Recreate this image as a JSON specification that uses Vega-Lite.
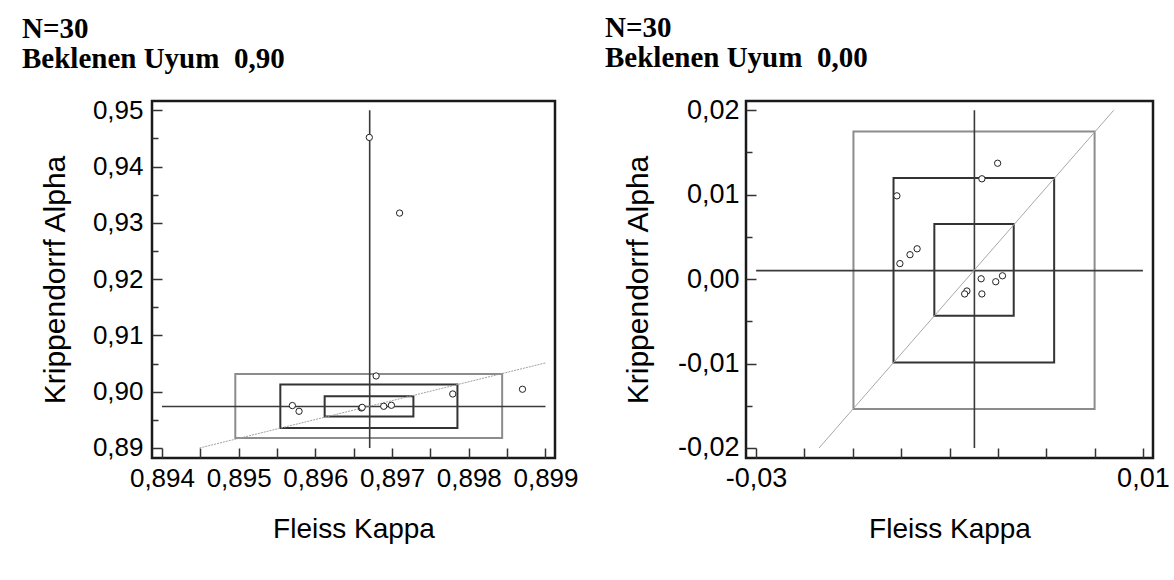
{
  "$schema": "https://vega.github.io/schema/vega-lite/v6.json",
  "background": "white",
  "padding": {"left": 20, "top": 13, "right": 0, "bottom": 5},
  "config": {
    "locale": {"number": {"decimal": ",", "thousands": ".", "grouping": [3], "currency": ["", " TL"], "minus": "-"}},
    "view": {"stroke": "#1a1a1a", "strokeWidth": 2.5},
    "axis": {"domain": false, "grid": false, "labelFont": "Liberation Sans", "labelFontSize": 26, "labelColor": "#000", "titleFont": "Liberation Sans", "titleFontWeight": "normal", "titleColor": "#000", "tickColor": "#333", "tickWidth": 1.5, "labelOverlap": false, "labelFlush": false},
    "title": {"font": "Liberation Serif", "fontSize": 29, "fontWeight": "bold", "color": "#000", "anchor": "start", "frame": "group", "lineHeight": 30}
  },
  "datasets": {
    "left_boxes": [
      {"kind": "dis", "x1": 0.894956, "x2": 0.898435, "y1": 0.89178, "y2": 0.90316},
      {"kind": "orta", "x1": 0.895543, "x2": 0.897852, "y1": 0.89355, "y2": 0.90127},
      {"kind": "ic", "x1": 0.896121, "x2": 0.897278, "y1": 0.89558, "y2": 0.89919}
    ],
    "left_lines": [
      {"x1": 0.896708, "x2": 0.896708, "y1": 0.89, "y2": 0.95},
      {"x1": 0.894, "x2": 0.899, "y1": 0.89736, "y2": 0.89736}
    ],
    "left_diag": [{"x1": 0.89449, "x2": 0.899, "y1": 0.89, "y2": 0.90512}],
    "left_points": [
      {"kappa": 0.896703, "alpha": 0.94518},
      {"kappa": 0.897098, "alpha": 0.93174},
      {"kappa": 0.896792, "alpha": 0.9028},
      {"kappa": 0.8957, "alpha": 0.89754},
      {"kappa": 0.895787, "alpha": 0.89652},
      {"kappa": 0.8966, "alpha": 0.89711},
      {"kappa": 0.89661, "alpha": 0.89722},
      {"kappa": 0.896891, "alpha": 0.89741},
      {"kappa": 0.896991, "alpha": 0.89759},
      {"kappa": 0.897791, "alpha": 0.8996},
      {"kappa": 0.8987, "alpha": 0.90044}
    ],
    "right_boxes": [
      {"kind": "dis", "x1": -0.019932, "x2": 0.005005, "y1": -0.015395, "y2": 0.0175},
      {"kind": "orta", "x1": -0.015789, "x2": 0.000823, "y1": -0.009868, "y2": 0.011974},
      {"kind": "ic", "x1": -0.011568, "x2": -0.003359, "y1": -0.004342, "y2": 0.006535}
    ],
    "right_lines": [
      {"x1": -0.007425, "x2": -0.007425, "y1": -0.02, "y2": 0.02},
      {"x1": -0.03, "x2": 0.01, "y1": 0.001009, "y2": 0.001009}
    ],
    "right_diag": [{"x1": -0.023495, "x2": 0.00698, "y1": -0.02, "y2": 0.02}],
    "right_points": [
      {"kappa": -0.005024, "alpha": 0.013728},
      {"kappa": -0.00665, "alpha": 0.011886},
      {"kappa": -0.01544, "alpha": 0.009868},
      {"kappa": -0.01513, "alpha": 0.001842},
      {"kappa": -0.014085, "alpha": 0.002895},
      {"kappa": -0.013349, "alpha": 0.003596},
      {"kappa": -0.006728, "alpha": 0.000044},
      {"kappa": -0.00452, "alpha": 0.000395},
      {"kappa": -0.005218, "alpha": -0.000307},
      {"kappa": -0.008199, "alpha": -0.001404},
      {"kappa": -0.008432, "alpha": -0.001754},
      {"kappa": -0.00665, "alpha": -0.001754}
    ]
  },
  "resolve": {"scale": {"x": "independent", "y": "independent"}},
  "spacing": 23,
  "hconcat": [
    {
      "width": 403,
      "height": 357,
      "title": {"text": ["N=30", "Beklenen Uyum\u00a0 0,90"], "dx": -130, "offset": 23},
      "resolve": {"axis": {"x": "independent", "y": "independent"}},
      "layer": [
        {
          "data": {"name": "left_boxes"},
          "mark": {"type": "rect", "filled": false, "strokeWidth": 2},
          "encoding": {
            "x": {"field": "x1", "type": "quantitative", "scale": {"domain": [0.89387, 0.899124], "nice": false, "zero": false},
              "axis": {"orient": "bottom", "values": [0.894, 0.8945, 0.895, 0.8955, 0.896, 0.8965, 0.897, 0.8975, 0.898, 0.8985, 0.899], "format": ".3f", "labelExpr": "abs(datum.value*1000 - round(datum.value*1000)) < 0.01 ? datum.label : ''", "tickSize": -10, "labelPadding": 17, "title": "Fleiss Kappa", "titleFontSize": 28, "titlePadding": 24}},
            "x2": {"field": "x2"},
            "y": {"field": "y1", "type": "quantitative", "scale": {"domain": [0.888222, 0.951654], "nice": false, "zero": false},
              "axis": {"orient": "left", "values": [0.89, 0.9, 0.91, 0.92, 0.93, 0.94, 0.95], "format": ".2f", "tickSize": -10, "labelPadding": 19, "title": "Krippendorrf Alpha", "titleFontSize": 30, "titlePadding": 22}},
            "y2": {"field": "y2"},
            "stroke": {"field": "kind", "type": "nominal", "scale": {"domain": ["dis", "orta", "ic"], "range": ["#8c8c8c", "#333333", "#333333"]}, "legend": null}
          }
        },
        {
          "data": {"name": "left_lines"},
          "mark": {"type": "rule", "color": "#3a3a3a", "strokeWidth": 1.6},
          "encoding": {
            "x": {"field": "x1", "type": "quantitative", "scale": {"domain": [0.89387, 0.899124], "nice": false, "zero": false}, "axis": null},
            "x2": {"field": "x2"},
            "y": {"field": "y1", "type": "quantitative", "scale": {"domain": [0.888222, 0.951654], "nice": false, "zero": false}, "axis": null},
            "y2": {"field": "y2"}
          }
        },
        {
          "data": {"name": "left_diag"},
          "mark": {"type": "rule", "color": "#a0a0a0", "strokeWidth": 1, "strokeDash": [2, 1]},
          "encoding": {
            "x": {"field": "x1", "type": "quantitative", "scale": {"domain": [0.89387, 0.899124], "nice": false, "zero": false}, "axis": null},
            "x2": {"field": "x2"},
            "y": {"field": "y1", "type": "quantitative", "scale": {"domain": [0.888222, 0.951654], "nice": false, "zero": false}, "axis": null},
            "y2": {"field": "y2"}
          }
        },
        {
          "data": {"name": "left_points"},
          "mark": {"type": "circle", "size": 40, "fill": "white", "stroke": "#222", "strokeWidth": 1, "opacity": 1},
          "encoding": {
            "x": {"field": "kappa", "type": "quantitative", "scale": {"domain": [0.89387, 0.899124], "nice": false, "zero": false}, "axis": null},
            "y": {"field": "alpha", "type": "quantitative", "scale": {"domain": [0.888222, 0.951654], "nice": false, "zero": false},
              "axis": {"orient": "left", "values": [0.895, 0.905, 0.915, 0.925, 0.935, 0.945], "labels": false, "tickSize": -6, "title": null}}
          }
        }
      ]
    },
    {
      "width": 407,
      "height": 357,
      "title": {"text": ["N=30", "Beklenen Uyum\u00a0 0,00"], "dx": -141, "offset": 23},
      "resolve": {"axis": {"x": "independent", "y": "independent"}},
      "layer": [
        {
          "data": {"name": "right_boxes"},
          "mark": {"type": "rect", "filled": false, "strokeWidth": 2},
          "encoding": {
            "x": {"field": "x1", "type": "quantitative", "scale": {"domain": [-0.031045, 0.011045], "nice": false, "zero": false},
              "axis": {"orient": "bottom", "values": [-0.03, -0.025, -0.02, -0.015, -0.01, -0.005, 0, 0.005, 0.01], "format": ".2f", "labelExpr": "abs(datum.value + 0.03) < 0.000001 || abs(datum.value - 0.01) < 0.000001 ? datum.label : ''", "tickSize": -10, "labelPadding": 17, "labelFontSize": 27, "title": "Fleiss Kappa", "titleFontSize": 28, "titlePadding": 24}},
            "x2": {"field": "x2"},
            "y": {"field": "y1", "type": "quantitative", "scale": {"domain": [-0.021186, 0.0211], "nice": false, "zero": false},
              "axis": {"orient": "left", "values": [-0.02, -0.01, 0, 0.01, 0.02], "format": ".2f", "tickSize": -10, "labelPadding": 17, "labelFontSize": 27, "title": "Krippendorrf Alpha", "titleFontSize": 30, "titlePadding": 24}},
            "y2": {"field": "y2"},
            "stroke": {"field": "kind", "type": "nominal", "scale": {"domain": ["dis", "orta", "ic"], "range": ["#8c8c8c", "#333333", "#333333"]}, "legend": null}
          }
        },
        {
          "data": {"name": "right_lines"},
          "mark": {"type": "rule", "color": "#3a3a3a", "strokeWidth": 1.6},
          "encoding": {
            "x": {"field": "x1", "type": "quantitative", "scale": {"domain": [-0.031045, 0.011045], "nice": false, "zero": false}, "axis": null},
            "x2": {"field": "x2"},
            "y": {"field": "y1", "type": "quantitative", "scale": {"domain": [-0.021186, 0.0211], "nice": false, "zero": false}, "axis": null},
            "y2": {"field": "y2"}
          }
        },
        {
          "data": {"name": "right_diag"},
          "mark": {"type": "rule", "color": "#a8a8a8", "strokeWidth": 1},
          "encoding": {
            "x": {"field": "x1", "type": "quantitative", "scale": {"domain": [-0.031045, 0.011045], "nice": false, "zero": false}, "axis": null},
            "x2": {"field": "x2"},
            "y": {"field": "y1", "type": "quantitative", "scale": {"domain": [-0.021186, 0.0211], "nice": false, "zero": false}, "axis": null},
            "y2": {"field": "y2"}
          }
        },
        {
          "data": {"name": "right_points"},
          "mark": {"type": "circle", "size": 40, "fill": "white", "stroke": "#222", "strokeWidth": 1, "opacity": 1},
          "encoding": {
            "x": {"field": "kappa", "type": "quantitative", "scale": {"domain": [-0.031045, 0.011045], "nice": false, "zero": false}, "axis": null},
            "y": {"field": "alpha", "type": "quantitative", "scale": {"domain": [-0.021186, 0.0211], "nice": false, "zero": false},
              "axis": {"orient": "left", "values": [-0.015, -0.005, 0.005, 0.015], "labels": false, "tickSize": -6, "title": null}}
          }
        }
      ]
    }
  ]
}
